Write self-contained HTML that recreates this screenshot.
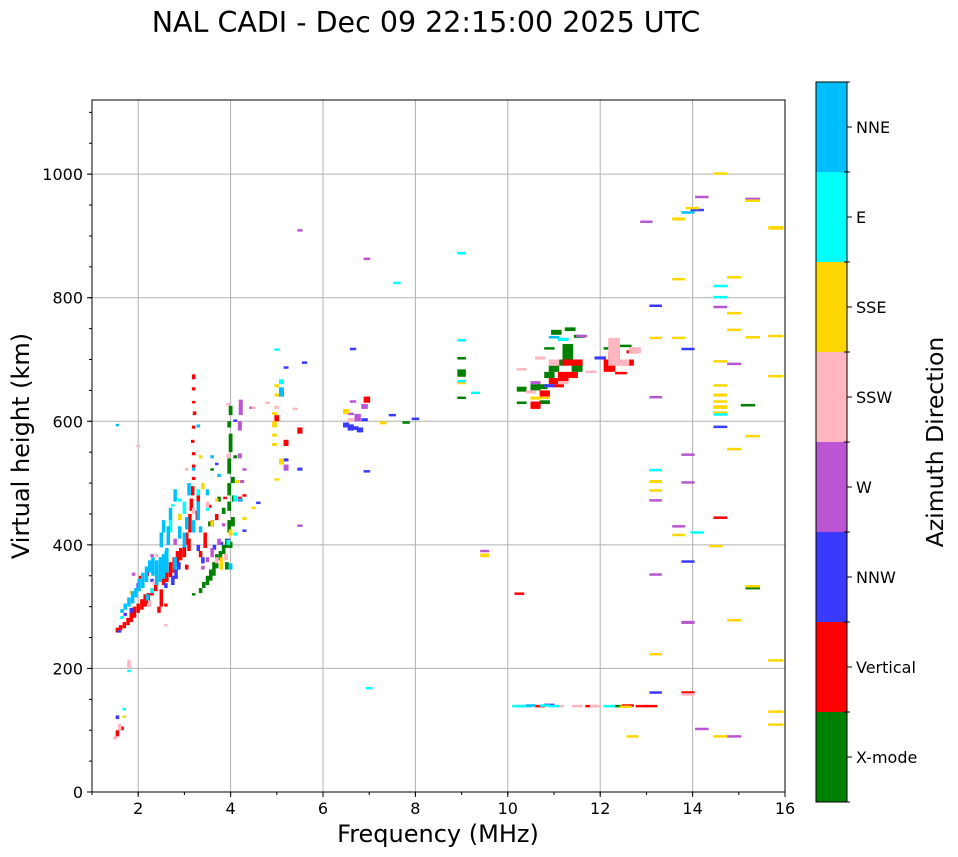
<!DOCTYPE html>
<html><head><meta charset="utf-8">
<style>
html,body{margin:0;padding:0;background:#fff;width:958px;height:857px;overflow:hidden;font-family:"DejaVu Sans",sans-serif;}
svg text{font-family:"DejaVu Sans",sans-serif;fill:#000;}
</style></head>
<body>
<svg id="chart" width="958" height="857" viewBox="0 0 958 857" xmlns="http://www.w3.org/2000/svg">
<text x="426" y="32" font-size="28.5" text-anchor="middle">NAL CADI - Dec 09 22:15:00 2025 UTC</text>
<g id="grid"></g>
<g id="marks"></g>
<rect x="92" y="100" width="693" height="692" fill="none" stroke="#000" stroke-width="1"/>
<g id="axes"></g>
<text x="438" y="842" font-size="24" text-anchor="middle">Frequency (MHz)</text>
<text transform="translate(29,446) rotate(-90)" font-size="24" text-anchor="middle">Virtual height (km)</text>
<g id="cbar"></g>
<text transform="translate(943,442) rotate(-90)" font-size="23.5" text-anchor="middle">Azimuth Direction</text>
</svg>
<script>
const xTicks=[2,4,6,8,10,12,14,16];
const yTicks=[0,200,400,600,800,1000];
const dirLabels=["X-mode","Vertical","NNW","W","SSW","SSE","E","NNE"];
const dirColors=["#008000","#ff0000","#3a3aff","#ba55d3","#ffb6c1","#ffd700","#00ffff","#00bfff"];
const xmodePts=[[3.35,322,330],[3.42,330,340],[3.5,335,350],[3.57,342,360],[3.64,350,372],[3.7,362,385],[3.78,375,390],[3.85,385,400],[3.92,395,410],[3.97,420,440],[3.97,455,470],[3.97,480,500],[3.97,515,540],[4.0,550,580],[3.97,590,600],[4.0,610,625],[4.05,430,445],[4.07,470,480],[4.05,500,510],[4.1,540,545],[3.85,450,460],[3.75,470,478],[3.55,430,438],[3.6,520,524],[3.2,318,322],[4.0,395,405],[3.92,360,372],
[9.0,672,684],[9.0,700,704],[9.0,636,640],[10.3,648,656],[10.6,650,660],[10.75,652,660],[10.9,670,680],[11.0,680,690],[11.05,740,748],[11.15,690,700],[11.3,700,725],[11.35,746,752],[11.5,680,700],[11.55,735,740],[10.8,628,634],[10.9,716,720],[10.3,628,632],[12.2,716,720],[12.3,700,704],[12.4,138,141],[12.55,720,724],[15.2,626,628],[15.3,330,332],[7.8,597,600],[11.2,668,672]];
const verticalPts=[[1.55,258,266],[1.62,262,270],[1.7,265,275],[1.78,270,282],[1.85,275,292],[1.92,282,300],[2.0,290,305],[2.08,295,312],[2.15,300,320],[2.22,305,322],[2.3,318,330],[2.38,325,340],[2.45,290,300],[2.5,300,328],[2.55,335,350],[2.62,340,360],[2.7,348,372],[2.78,355,380],[2.85,365,390],[2.92,375,395],[3.0,380,400],[3.05,400,420],[3.1,390,410],[3.12,420,450],[3.15,455,475],[3.18,480,495],[3.2,505,510],[3.2,525,530],[3.2,545,550],[3.18,565,570],[3.2,588,593],[3.22,610,616],[3.2,630,633],[3.2,650,655],[3.2,668,676],[3.28,440,455],[3.3,470,480],[3.45,395,420],[3.6,430,440],[3.7,440,450],[3.55,460,465],[3.88,475,478],[4.2,470,478],[3.35,380,390],[2.2,350,356],[1.55,90,100],[1.65,100,106],[2.05,345,350],[2.6,300,305],[4.3,478,482],[3.05,360,368],
[5.0,600,610],[5.1,640,650],[5.2,560,570],[5.5,580,590],[6.95,630,640],[10.25,320,323],[10.6,620,632],[10.8,640,650],[11.0,660,670],[11.2,665,680],[11.3,690,700],[11.4,670,680],[11.5,690,700],[12.2,680,700],[12.3,700,712],[12.45,676,680],[12.6,690,700],[12.7,710,715],[12.6,138,142],[12.9,138,141],[13.1,138,141],[11.8,138,141],[10.7,138,141],[13.9,160,163],[14.6,443,446],[11.1,655,660]];
const nnwPts=[[1.55,118,124],[1.6,258,262],[1.85,290,298],[1.72,285,290],[2.0,330,338],[2.3,340,345],[2.6,330,338],[2.75,335,350],[2.82,345,360],[2.88,360,372],[3.0,395,400],[3.3,390,400],[3.4,370,380],[3.6,430,440],[3.65,392,400],[3.8,400,405],[3.95,405,410],[4.3,422,425],[4.1,600,603],[3.7,530,533],
[4.6,466,470],[5.2,535,540],[5.5,520,525],[6.5,590,598],[6.6,585,595],[6.7,586,592],[6.8,582,590],[6.9,600,605],[6.95,518,521],[6.65,716,719],[7.5,610,612],[8.0,604,606],[5.2,686,689],[5.6,694,697],[10.9,655,660],[11.2,730,735],[12.0,700,705],[13.2,786,789],[13.2,160,163],[13.9,716,719],[13.9,372,375],[14.6,590,593],[14.1,940,944],[10.3,138,141],[10.9,140,143]];
const wPts=[[1.9,350,355],[2.3,380,385],[2.8,400,410],[3.3,450,460],[3.6,380,395],[3.75,400,410],[3.85,430,435],[4.2,585,600],[4.22,610,635],[4.2,540,548],[4.25,500,505],[4.3,520,524],[4.2,470,475],[4.45,620,624],[3.5,372,380],[3.4,360,366],
[5.2,520,530],[5.5,430,433],[5.5,908,911],[6.6,610,614],[6.75,600,612],[6.9,620,628],[6.95,862,865],[6.65,630,634],[9.5,388,392],[10.6,660,665],[11.6,736,740],[13.0,922,925],[13.2,638,641],[13.2,472,474],[13.2,352,354],[13.9,545,548],[13.9,500,503],[13.7,428,432],[13.9,272,277],[14.2,962,965],[14.2,100,104],[14.6,784,787],[14.9,692,695],[15.3,958,962],[14.9,90,92]];
const sswPts=[[1.6,100,110],[1.8,200,214],[2.0,560,562],[2.4,380,385],[2.6,270,272],[2.9,420,430],[3.2,450,460],[3.5,460,470],[3.7,370,380],[3.9,375,385],[2.25,300,310],[2.35,335,342],[3.05,520,525],[3.95,540,548],[3.95,625,630],[4.5,620,624],[2.45,340,345],[1.5,85,90],
[4.8,630,632],[5.0,620,625],[5.4,620,622],[6.6,600,605],[10.3,684,686],[10.5,645,650],[10.7,700,705],[11.0,690,700],[11.2,660,665],[12.3,690,735],[12.5,690,700],[12.75,710,720],[11.8,680,682],[11.9,138,141],[11.1,138,141],[11.5,138,141],[13.9,159,160]];
const ssePts=[[1.7,120,124],[1.85,320,325],[2.4,340,350],[2.9,440,450],[3.4,490,500],[3.6,430,440],[3.8,360,380],[4.0,415,425],[4.3,440,445],[4.5,458,462],[3.35,540,545],[4.15,500,505],[3.7,470,475],
[4.95,560,565],[4.95,575,580],[4.95,590,600],[4.95,610,615],[5.0,640,645],[5.0,655,660],[5.1,530,540],[5.0,505,508],[6.5,612,620],[7.3,595,600],[9.0,660,665],[9.5,380,386],[10.6,635,640],[10.8,636,640],[12.55,138,140],[12.7,90,92],[13.2,734,737],[13.2,500,505],[13.2,487,490],[13.2,222,225],[13.7,925,930],[13.7,734,737],[13.7,415,418],[13.7,828,832],[14.0,944,947],[14.6,1000,1003],[14.6,696,699],[14.6,610,616],[14.6,620,626],[14.6,630,634],[14.6,640,645],[14.6,656,660],[14.6,90,92],[14.9,832,835],[14.9,774,777],[14.9,748,750],[14.9,555,557],[14.9,278,280],[14.5,398,400],[15.3,956,959],[15.3,736,738],[15.3,576,578],[15.3,332,335],[15.8,910,916],[15.8,736,740],[15.8,672,675],[15.8,212,215],[15.8,130,132],[15.8,108,111]];
const ePts=[[1.7,132,136],[1.8,196,198],[2.3,322,330],[2.5,350,360],[2.6,380,390],[2.7,420,440],[2.55,420,425],[3.0,450,470],[3.3,480,490],[3.5,455,460],[4.1,470,480],[3.95,400,408],[4.1,415,420],[2.9,470,475],[1.65,280,285],[2.75,462,466],
[5.1,660,668],[5.0,716,718],[7.0,168,170],[7.6,824,826],[9.0,872,874],[9.0,730,733],[9.0,664,667],[9.3,646,648],[10.2,138,141],[10.4,138,141],[10.8,138,142],[11.0,138,141],[12.2,138,141],[13.2,520,523],[14.6,818,821],[14.6,800,803],[14.6,610,613],[14.1,420,422],[11.2,730,735]];
const nnePts=[[1.55,593,596],[1.65,290,296],[1.72,295,305],[1.8,300,315],[1.88,305,325],[1.95,315,330],[2.02,325,345],[2.1,330,355],[2.18,340,365],[2.25,355,375],[2.32,350,380],[2.4,335,375],[2.48,340,380],[2.55,345,385],[2.62,355,395],[2.5,396,420],[2.55,420,440],[2.65,400,430],[2.7,440,460],[2.8,470,490],[2.9,410,430],[3.0,396,420],[3.05,425,445],[3.1,480,500],[3.3,440,470],[3.35,420,430],[3.3,590,595],[3.6,540,545],[3.5,480,490],[2.8,360,380],[3.2,420,440],[3.2,520,525],[4.0,360,370],[4.22,470,475],[3.75,510,515],[2.2,310,320],
[5.1,640,655],[10.5,138,142],[11.0,735,738],[13.9,937,940]];

const NS="http://www.w3.org/2000/svg";
const X0=92,X1=785,Y0=792,Y1=100,FMIN=1,FMAX=16,HMIN=0,HMAX=1120;
function xs(f){return X0+(f-FMIN)/(FMAX-FMIN)*(X1-X0);}
function ys(h){return Y0-(h-HMIN)/(HMAX-HMIN)*(Y0-Y1);}
function mk(tag,attrs,parent){const e=document.createElementNS(NS,tag);for(const k in attrs)e.setAttribute(k,attrs[k]);parent.appendChild(e);return e;}
const grid=document.getElementById('grid'),axes=document.getElementById('axes'),marks=document.getElementById('marks'),cbar=document.getElementById('cbar');
xTicks.forEach(t=>{
  const l=mk('line',{x1:xs(t),x2:xs(t),y1:Y1,y2:Y0,stroke:'#b0b0b0','stroke-width':1},grid);
  
  
  mk('line',{x1:xs(t),x2:xs(t),y1:Y0,y2:Y0+5,stroke:'#000'},axes);
  const tx=mk('text',{x:xs(t),y:Y0+22,'font-size':16,'text-anchor':'middle'},axes);tx.textContent=t;
  
  
});
for(let f=1;f<=16;f+=1){mk('line',{x1:xs(f),x2:xs(f),y1:Y0,y2:Y0+3,stroke:'#000'},axes);}
yTicks.forEach(t=>{
  const l=mk('line',{x1:X0,x2:X1,y1:ys(t),y2:ys(t),stroke:'#b0b0b0','stroke-width':1},grid);
  
  
  mk('line',{x1:X0-5,x2:X0,y1:ys(t),y2:ys(t),stroke:'#000'},axes);
  const tx=mk('text',{x:X0-9,y:ys(t)+6,'font-size':16,'text-anchor':'end'},axes);tx.textContent=t;
  
  
});
for(let h=0;h<=1100;h+=50){mk('line',{x1:X0-3,x2:X0,y1:ys(h),y2:ys(h),stroke:'#000'},axes);}
const series=[xmodePts,verticalPts,nnwPts,wPts,sswPts,ssePts,ePts,nnePts];
series.forEach((pts,ci)=>{
  pts.forEach(p=>{
    const w=Math.max(3.5,p[0]*0.95);
    const ya=ys(p[2]),yb=ys(p[1]);
    const r=mk('rect',{x:xs(p[0])-w/2,y:ya,width:w,height:Math.max(2.5,yb-ya),fill:dirColors[ci]},marks);
    
    
  });
});
const CB_X=816,CB_W=31,CB_T=82,CB_B=802,n=dirLabels.length,bh=(CB_B-CB_T)/n;
dirLabels.forEach((lab,i)=>{
  const y=CB_B-(i+1)*bh;
  const r=mk('rect',{x:CB_X,y:y,width:CB_W,height:bh,fill:dirColors[i]},cbar);
  
  
  mk('line',{x1:CB_X+CB_W,x2:CB_X+CB_W+5,y1:y+bh/2,y2:y+bh/2,stroke:'#000'},cbar);
  const tx=mk('text',{x:CB_X+CB_W+9,y:y+bh/2+6,'font-size':16},cbar);tx.textContent=lab;
  
  
});
for(let i=0;i<=n;i++){mk('line',{x1:CB_X+CB_W-3,x2:CB_X+CB_W+3,y1:CB_T+i*bh,y2:CB_T+i*bh,stroke:'#000'},cbar);}
mk('rect',{x:CB_X,y:CB_T,width:CB_W,height:CB_B-CB_T,fill:'none',stroke:'#000'},cbar);
</script>
</body></html>
